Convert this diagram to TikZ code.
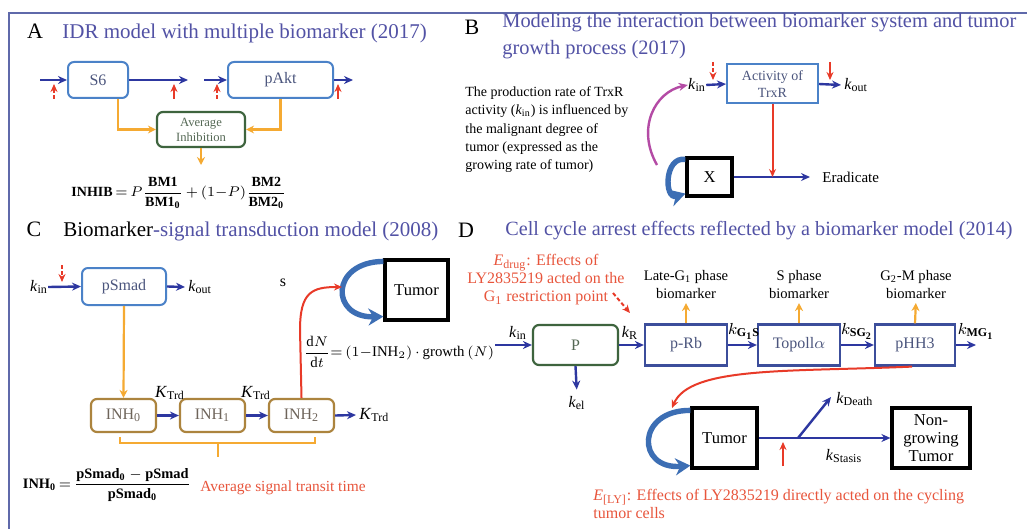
\documentclass[tikz,border=0pt]{standalone}
\usepackage{amsmath}
\usepackage{fontspec}
\setmainfont{Liberation Serif}
\usetikzlibrary{arrows.meta}
\definecolor{ttlc}{RGB}{82,82,165}
\definecolor{frm}{RGB}{95,105,170}
\definecolor{bblue}{RGB}{75,130,200}
\definecolor{dblue}{RGB}{60,78,155}
\definecolor{btxt}{RGB}{75,85,125}
\definecolor{ablue}{RGB}{45,55,160}
\definecolor{redA}{RGB}{232,58,40}
\definecolor{redT}{RGB}{232,85,60}
\definecolor{orng}{RGB}{245,170,50}
\definecolor{grn}{RGB}{62,100,62}
\definecolor{grntxt}{RGB}{85,105,85}
\definecolor{olv}{RGB}{172,132,62}
\definecolor{olvtxt}{RGB}{110,100,90}
\definecolor{mag}{RGB}{180,75,165}
\definecolor{loopc}{RGB}{60,110,180}
\newcommand{\kIn}{\textit{k}\textsubscript{in}}
\newcommand{\kOut}{\textit{k}\textsubscript{out}}
\newcommand{\kTrd}{\textit{K}\textsubscript{Trd}}
\begin{document}
\begin{tikzpicture}[x=0.5pt,y=-0.5pt,
  ttl/.style={text=ttlc,font=\fontsize{10.5}{12}\selectfont,inner sep=0,anchor=base west},
  plab/.style={font=\fontsize{11}{12}\selectfont,inner sep=0,anchor=base},
  rbox/.style={draw=bblue,line width=1pt,rounded corners=3pt,text=btxt,font=\fontsize{8}{9}\selectfont,inner sep=0},
  gbox/.style={draw=grn,line width=1.1pt,rounded corners=3pt,text=grntxt,inner sep=0,align=center},
  sbox/.style={draw=dblue,line width=1.1pt,text=btxt,font=\fontsize{8}{9}\selectfont,inner sep=0,align=center},
  ibox/.style={draw=olv,line width=1.1pt,rounded corners=3pt,text=olvtxt,font=\fontsize{8}{9}\selectfont,inner sep=0},
  bbox/.style={draw=black,line width=1.6pt,font=\fontsize{8.3}{9}\selectfont,inner sep=0,align=center},
  klab/.style={font=\fontsize{8}{9}\selectfont,inner sep=0},
  bmlab/.style={font=\fontsize{7.3}{9}\selectfont,inner sep=0,align=center},
  barrow/.style={draw=ablue,line width=1.2pt,-{Stealth[length=4.5pt,width=4pt]}},
  rarrow/.style={draw=redA,line width=1pt,-{Stealth[length=4pt,width=3.5pt]}},
  rdash/.style={rarrow,dash pattern=on 2pt off 1.2pt},
  oarrow/.style={draw=orng,line width=1.1pt,-{Stealth[length=4pt,width=4pt]}},
  loopb/.style={draw=loopc,line width=2.7pt,-{Stealth[length=7.5pt,width=8.5pt]}},
  marrow/.style={draw=mag,line width=1.2pt,-{Stealth[length=4.5pt,width=4pt]}},
]
\useasboundingbox (0,0) rectangle (1027,529);
\clip (0,0) rectangle (1027,529);
\fill[white] (0,0) rectangle (1027,529);
% frame
\draw[frm,line width=1pt] (9,529) -- (9,13) -- (1027,13);

% ===== Panel A =====
\node[plab] (labA) at (35,39) {A};
\node[ttl] (ttlA) at (62,39) {IDR model with multiple biomarker (2017)};
\node[rbox,minimum width=30pt,minimum height=18pt] (S6) at (98,80) {S6};
\node[rbox,minimum width=52.5pt,minimum height=18pt] (pAkt) at (280.5,80) {pAkt};
\node[gbox,minimum width=44pt,minimum height=17.5pt,font=\fontsize{6.3}{7.5}\selectfont] (avg) at (201,129.5) {Average\\Inhibition};
\coordinate (a0) at (40,80);
\coordinate (a1) at (188,80);
\coordinate (a2) at (204,80);
\coordinate (a3) at (353,80);
\draw[barrow] (a0) -- (S6.west);
\draw[barrow] (S6.east) -- (a1);
\draw[barrow] (a2) -- (pAkt.west);
\draw[barrow] (pAkt.east) -- (a3);
\coordinate (r1) at (54,99); \coordinate (r1e) at (54,84);
\coordinate (r2) at (174,99); \coordinate (r2e) at (174,84);
\coordinate (r3) at (217,99); \coordinate (r3e) at (217,84);
\coordinate (r4) at (338,99); \coordinate (r4e) at (338,84);
\draw[rdash] (r1) -- (r1e);
\draw[rarrow] (r2) -- (r2e);
\draw[rdash] (r3) -- (r3e);
\draw[rarrow] (r4) -- (r4e);
\draw[oarrow] ([xshift=10pt]S6.south) |- (avg.west);
\draw[oarrow] (pAkt.south) |- (avg.east);
\coordinate (avgout) at (201,165);
\draw[oarrow] (avg.south) -- (avgout);
\node[font=\fontsize{7}{8}\selectfont,inner sep=0] (fA) at (179,193)
  {$\mathbf{INHIB}\,{=}\,P\dfrac{\mathbf{BM1}}{\mathbf{BM1_0}}\,{+}\,(1{-}P)\dfrac{\mathbf{BM2}}{\mathbf{BM2_0}}$};

% ===== Panel B =====
\node[plab] (labB) at (472,35) {B};
\node[ttl,font=\fontsize{10.2}{12}\selectfont] (ttlB1) at (502,28) {Modeling the interaction between biomarker system and tumor};
\node[ttl,font=\fontsize{10.2}{12}\selectfont] (ttlB2) at (502,55) {growth process (2017)};
\node[font=\fontsize{7}{9.2}\selectfont,align=left,anchor=north west,inner sep=0] (txtB) at (465,86)
  {The production rate of TrxR\\activity (\kIn) is influenced by\\the malignant degree of\\tumor (expressed as the\\growing rate of tumor)};
\node[draw=bblue,line width=1pt,text=btxt,font=\fontsize{7}{8.5}\selectfont,align=center,inner sep=0,
  minimum width=45.5pt,minimum height=19.5pt] (act) at (772.5,84) {Activity of\\TrxR};
\node[klab] (kinB) at (697,85) {\kIn};
\draw[barrow] (kinB.east) -- (act.west);
\node[klab,anchor=west] (koutB) at (844,85) {\kOut};
\draw[barrow] (act.east) -- ([xshift=-1.5pt]koutB.west);
\coordinate (rb1) at (713,62); \coordinate (rb1e) at (713,80);
\coordinate (rb2) at (830,62); \coordinate (rb2e) at (830,80);
\draw[rdash] (rb1) -- (rb1e);
\draw[rarrow] (rb2) -- (rb2e);
\node[bbox,minimum width=22.5pt,minimum height=19pt] (X) at (709.5,177) {X};
\coordinate (eradin) at (810,177);
\node[font=\fontsize{7.5}{9}\selectfont,anchor=west,inner sep=0] (erad) at (822,177) {Eradicate};
\draw[barrow] (X.east) -- (eradin);
\draw[rarrow] (act.south) -- (act.south |- X.east);
\draw[loopb] ([yshift=-1.5pt]X.north west) .. controls (664,156) and (664,200) .. ([yshift=2pt]X.south west);
\coordinate (mstart) at (657,165);
\draw[marrow] (mstart) .. controls (636,128) and (655,92) .. (kinB.west);

% ===== Panel C =====
\node[plab] (labC) at (34,236) {C};
\node[ttl,text=black] (ttlC) at (63,236) {Biomarker\textcolor{ttlc}{-signal transduction model (2008)}};
\node[rbox,minimum width=42pt,minimum height=18.5pt] (pSmad) at (124,286.5) {pSmad};
\node[klab] (kinC) at (39,287) {\kIn};
\draw[barrow] (kinC.east) -- (pSmad.west);
\coordinate (rc1) at (62,265); \coordinate (rc1e) at (62,282);
\draw[rdash] (rc1) -- (rc1e);
\node[klab,anchor=west] (koutC) at (188,287) {\kOut};
\draw[barrow] (pSmad.east) -- ([xshift=-1.5pt]koutC.west);
\node[font=\fontsize{8}{9}\selectfont,inner sep=0] (sC) at (283,283) {s};
\node[bbox,minimum width=31.5pt,minimum height=30pt] (tumC) at (416.5,290) {Tumor};
\draw[loopb] ([yshift=-1.5pt]tumC.north west) .. controls (330,262) and (330,318) .. ([yshift=2.5pt]tumC.south west);
\node[font=\fontsize{7.4}{9}\selectfont,inner sep=0] (fC) at (399,352)
  {$\dfrac{\text{d}N}{\text{d}t}{=}\left(1{-}\text{INH}_2\right){\cdot}\,\text{growth}\left(N\right)$};
\node[ibox,minimum width=32.5pt,minimum height=16.5pt] (INH0) at (123.5,415.5) {INH\textsubscript{0}};
\node[ibox,minimum width=32.5pt,minimum height=16.5pt] (INH1) at (212.5,415.5) {INH\textsubscript{1}};
\node[ibox,minimum width=32.5pt,minimum height=16.5pt] (INH2) at (301.5,415.5) {INH\textsubscript{2}};
\draw[oarrow] (pSmad.south) -- (INH0.north);
\draw[barrow] (INH0.east) -- (INH1.west);
\draw[barrow] (INH1.east) -- (INH2.west);
\node[klab,font=\fontsize{8.5}{9}\selectfont] (kt1) at (170,393) {\kTrd};
\node[klab,font=\fontsize{8.5}{9}\selectfont] (kt2) at (256,393) {\kTrd};
\node[klab,font=\fontsize{8.5}{9}\selectfont,anchor=west] (kt3) at (359,415) {\kTrd};
\draw[barrow] (INH2.east) -- ([xshift=-1.5pt]kt3.west);
\coordinate (tumin) at (342,287);
\draw[rarrow] (INH2.north) -- (300,330) .. controls (300,292) and (312,287) .. (tumin);
\draw[orng,line width=1.2pt] (120,437) -- (120,443) -- (315,443) -- (315,437);
\draw[orng,line width=1.2pt] (218,443) -- (218,457);
\node[font=\fontsize{7.2}{9}\selectfont,inner sep=0] (fINH) at (107,485)
  {$\mathbf{INH_0}\,{=}\,\dfrac{\mathbf{pSmad_0}-\mathbf{pSmad}}{\mathbf{pSmad_0}}$};
\node[font=\fontsize{7.7}{9}\selectfont,text=redT,anchor=base west,inner sep=0] (avgt) at (200,491) {Average signal transit time};

% ===== Panel D =====
\node[plab] (labD) at (466,237) {D};
\node[ttl,font=\fontsize{10.1}{12}\selectfont] (ttlD) at (505,235) {Cell cycle arrest effects reflected by a biomarker model (2014)};
\node[font=\fontsize{8}{9}\selectfont,text=redT,align=center,inner sep=0] (edrug) at (546,280)
  {\textit{E}\textsubscript{drug}: Effects of\\LY2835219 acted on the\\G\textsubscript{1} restriction point};
\coordinate (ed1) at (613,293); \coordinate (ed2) at (630,313);
\draw[rdash] (ed1) -- (ed2);
\node[gbox,minimum width=42.5pt,minimum height=20pt,font=\fontsize{8}{9}\selectfont] (P) at (575.5,345) {P};
\node[sbox,minimum width=41pt,minimum height=20.5pt] (pRb) at (686,345) {p-Rb};
\node[sbox,minimum width=41pt,minimum height=20.5pt] (topo) at (799,345) {Topoll$\alpha$};
\node[sbox,minimum width=40pt,minimum height=20.5pt] (pHH3) at (915,345) {pHH3};
\coordinate (din) at (495,345);
\coordinate (dout) at (976,345);
\draw[barrow] (din) -- (P.west);
\draw[barrow] (P.east) -- (pRb.west);
\draw[barrow] (pRb.east) -- (topo.west);
\draw[barrow] (topo.east) -- (pHH3.west);
\draw[barrow] (pHH3.east) -- (dout);
\node[klab] (kinD) at (518,333) {\kIn};
\node[klab] (kR) at (630,333) {\textit{k}\textsubscript{R}};
\node[klab] (kG1S) at (744,331) {$k_{\mathbf{G_1S}}$};
\node[klab] (kSG2) at (857,331) {$k_{\mathbf{SG_2}}$};
\node[klab] (kMG1) at (976,331) {$k_{\mathbf{MG_1}}$};
\node[bmlab] (bm1) at (686,284.5) {Late-G\textsubscript{1} phase\\biomarker};
\node[bmlab] (bm2) at (799,284.5) {S phase\\biomarker};
\node[bmlab] (bm3) at (916,284.5) {G\textsubscript{2}-M phase\\biomarker};
\draw[oarrow,shorten >=2pt] (pRb.north) -- (bm1.south);
\draw[oarrow,shorten >=2pt] (topo.north) -- (bm2.south);
\draw[oarrow,shorten >=2pt] (pHH3.north) -- (bm3.south);
\node[klab] (kel) at (577,403) {\textit{k}\textsubscript{el}};
\draw[barrow,shorten >=3pt] (P.south) -- (kel.north);
\coordinate (rtip) at (672,408);
\draw[rarrow] ([xshift=-1.5pt]pHH3.south) .. controls (790,372) and (690,366) .. (rtip);
\node[bbox,minimum width=32.5pt,minimum height=30pt] (tumD) at (724.5,438) {Tumor};
\node[bbox,minimum width=39pt,minimum height=30pt] (nong) at (931,438) {Non-\\growing\\Tumor};
\draw[loopb] ([yshift=-2pt]tumD.north west) .. controls (636,410) and (636,470) .. ([yshift=2pt]tumD.south west);
\draw[barrow] (tumD.east) -- (nong.west);
\coordinate (br) at (798,438);
\coordinate (dtip) at (831,397);
\draw[barrow] (br) -- (dtip);
\node[klab,anchor=west] (kdeath) at (836,399) {\textit{k}\textsubscript{Death}};
\coordinate (ry1) at (783,466); \coordinate (ry1e) at (783,442);
\draw[rarrow] (ry1) -- (ry1e);
\node[klab] (kst) at (844,456) {\textit{k}\textsubscript{Stasis}};
\node[font=\fontsize{8}{9}\selectfont,text=redT,align=left,anchor=north west,inner sep=0] (ely) at (593,489)
  {\textit{E}\textsubscript{[LY]}: Effects of LY2835219 directly acted on the cycling\\tumor cells};
\end{tikzpicture}
\end{document}
